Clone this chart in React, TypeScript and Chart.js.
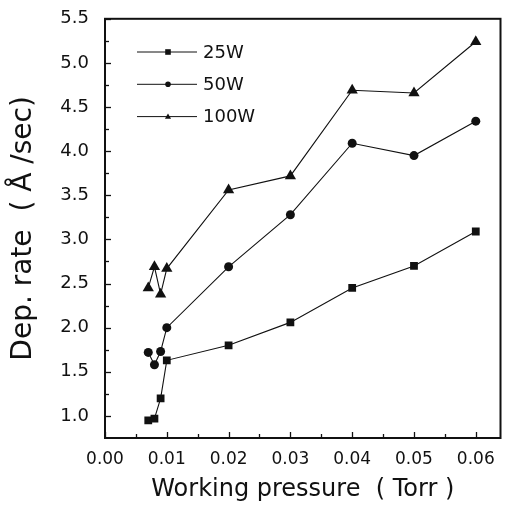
import React, { useEffect, useRef } from 'react';
import { Chart, registerables } from 'chart.js';

Chart.register(...registerables);

// ---- data ----
const pressure = [0.007, 0.008, 0.009, 0.01, 0.02, 0.03, 0.04, 0.05, 0.06];
const rate25W = [0.95, 0.97, 1.2, 1.63, 1.8, 2.06, 2.45, 2.7, 3.09];
const rate50W = [1.72, 1.58, 1.73, 2.0, 2.69, 3.28, 4.09, 3.95, 4.34];
const rate100W = [2.45, 2.69, 2.38, 2.67, 3.56, 3.72, 4.69, 4.66, 5.24];
const seriesLabels = ['25W', '50W', '100W'];
const seriesStyles = ['rect', 'circle', 'triangle'];

const xTickValues = [0, 0.01, 0.02, 0.03, 0.04, 0.05, 0.06];
const xTickLabels = ['0.00', '0.01', '0.02', '0.03', '0.04', '0.05', '0.06'];
const yTickValues = [1.0, 1.5, 2.0, 2.5, 3.0, 3.5, 4.0, 4.5, 5.0, 5.5];
const yTickLabels = ['1.0', '1.5', '2.0', '2.5', '3.0', '3.5', '4.0', '4.5', '5.0', '5.5'];
const xTitle = 'Working pressure  ( Torr )';
const yTitle = 'Dep. rate  ( Å /sec)';

const X_MIN = 0;
const X_MAX = 0.064;
const Y_MIN = 0.75;
const Y_MAX = 5.5;
const X_MINOR = 0.005;
const Y_MINOR = 0.25;

const FONT = '"DejaVu Sans", "Liberation Sans", Arial, sans-serif';
const INK = '#111';

function drawMarker(ctx: CanvasRenderingContext2D, style: string, x: number, y: number, r: number) {
  ctx.beginPath();
  if (style === 'rect') {
    ctx.rect(x - r, y - r, 2 * r, 2 * r);
  } else if (style === 'circle') {
    ctx.arc(x, y, r, 0, Math.PI * 2);
  } else {
    ctx.moveTo(x, y - r * 1.15);
    ctx.lineTo(x + r * 1.1, y + r * 0.75);
    ctx.lineTo(x - r * 1.1, y + r * 0.75);
    ctx.closePath();
  }
  ctx.fill();
}

const framePlugin = {
  id: 'frameTicks',
  afterDraw(chart: any) {
    const { ctx, chartArea } = chart;
    const { left, right, top, bottom } = chartArea;
    const xs = chart.scales.x;
    const ys = chart.scales.y;
    ctx.save();
    ctx.strokeStyle = INK;
    ctx.lineWidth = 1.3;
    // x ticks (inward)
    for (let k = 0; X_MIN + k * X_MINOR <= X_MAX + 1e-9; k++) {
      const v = X_MIN + k * X_MINOR;
      const px = Math.round(xs.getPixelForValue(v)) + 0.5;
      const len = k % 2 === 0 ? 6 : 4;
      ctx.beginPath();
      ctx.moveTo(px, bottom);
      ctx.lineTo(px, bottom - len);
      ctx.stroke();
    }
    // y ticks (inward)
    for (let k = 0; 1.0 + k * Y_MINOR <= Y_MAX + 1e-9; k++) {
      const v = 1.0 + k * Y_MINOR;
      const py = Math.round(ys.getPixelForValue(v)) + 0.5;
      const len = k % 2 === 0 ? 6 : 4;
      ctx.beginPath();
      ctx.moveTo(left, py);
      ctx.lineTo(left + len, py);
      ctx.stroke();
    }
    ctx.lineWidth = 2;
    ctx.strokeRect(left, top, right - left, bottom - top);

    // legend
    const rows = chart.data.datasets;
    ctx.fillStyle = INK;
    ctx.font = `18px ${FONT}`;
    ctx.textBaseline = 'middle';
    ctx.textAlign = 'left';
    rows.forEach((ds: any, i: number) => {
      const y = 52 + i * 32.3;
      ctx.lineWidth = 1;
      ctx.beginPath();
      ctx.moveTo(137, y);
      ctx.lineTo(197, y);
      ctx.stroke();
      drawMarker(ctx, ds.pointStyle, 168, y, 2.8);
      ctx.fillText(ds.label, 203, y + 1);
    });
    ctx.restore();
  },
};

export default function App() {
  const canvasRef = useRef<HTMLCanvasElement | null>(null);

  useEffect(() => {
    if (!canvasRef.current) return;
    const series = [rate25W, rate50W, rate100W];
    const radii = [5.5, 4.5, 6.5];
    const chart = new Chart(canvasRef.current, {
      type: 'line',
      data: {
        datasets: series.map((vals, i) => ({
          label: seriesLabels[i],
          data: pressure.map((p, j) => ({ x: p, y: vals[j] })),
          borderColor: INK,
          borderWidth: 1.1,
          backgroundColor: INK,
          pointStyle: seriesStyles[i] as any,
          pointRadius: radii[i],
          pointBackgroundColor: INK,
          pointBorderColor: INK,
          pointBorderWidth: 0,
          tension: 0,
          fill: false,
        })),
      },
      options: {
        animation: false,
        responsive: true,
        maintainAspectRatio: false,
        layout: { padding: { top: 15, right: 4, left: 0, bottom: 0 } },
        plugins: { legend: { display: false }, tooltip: { enabled: false } },
        scales: {
          x: {
            type: 'linear',
            min: X_MIN,
            max: X_MAX,
            grid: { display: false },
            border: { display: false },
            afterBuildTicks: (s: any) => {
              s.ticks = xTickValues.map((v) => ({ value: v }));
            },
            afterFit: (s: any) => {
              s.height = 76;
            },
            ticks: {
              autoSkip: false,
              maxRotation: 0,
              padding: 3,
              color: INK,
              font: { family: FONT, size: 17 },
              callback: (_v: any, i: number) => xTickLabels[i] ?? '',
            },
            title: {
              display: true,
              text: xTitle,
              color: INK,
              font: { family: FONT, size: 24 },
              padding: { top: 0, bottom: 10 },
            },
          },
          y: {
            type: 'linear',
            min: Y_MIN,
            max: Y_MAX,
            grid: { display: false },
            border: { display: false },
            afterBuildTicks: (s: any) => {
              s.ticks = yTickValues.map((v) => ({ value: v }));
            },
            afterFit: (s: any) => {
              s.width = 105;
            },
            ticks: {
              autoSkip: false,
              padding: 8,
              color: INK,
              font: { family: FONT, size: 18 },
              callback: (_v: any, i: number) => yTickLabels[i] ?? '',
            },
            title: {
              display: true,
              text: yTitle,
              color: INK,
              font: { family: FONT, size: 28 },
              padding: { top: 7, bottom: 0 },
            },
          },
        },
      },
      plugins: [framePlugin],
    });
    return () => chart.destroy();
  }, []);

  return (
    <div style={{ position: 'fixed', left: 0, top: 0, width: 507, height: 514, background: '#fff' }}>
      <canvas ref={canvasRef} />
    </div>
  );
}
